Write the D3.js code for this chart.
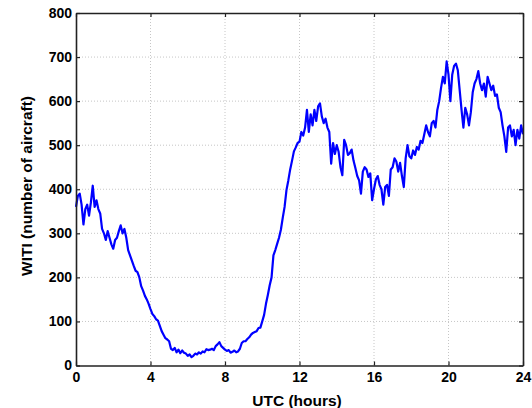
<!DOCTYPE html>
<html lang="en">
  <head>
    <meta charset="UTF-8" />
    <title>WITI</title>
    <script src="https://cdn.jsdelivr.net/npm/d3@7"></script>
    <style>
      body { margin: 0; background: #fff; }
      text { font-family: "Liberation Sans", Arial, Helvetica, sans-serif; font-weight: bold; fill: #000; }
    </style>
  </head>
  <body>
    <svg id="svg" width="532" height="408"></svg>
    <script>
      // WITI every 0.1 h (0.0 .. 24.0)
      const witi = [
        360, 385, 390, 365, 320, 355, 365, 340, 370, 408,
        360, 375, 355, 345, 310, 300, 285, 305, 290, 275,
        265, 285, 290, 305, 318, 300, 310, 290, 262, 250,
        238, 226, 215, 212, 200, 180, 170, 158, 150, 140,
        128, 117, 112, 105, 102, 90, 78, 70, 62, 59,
        55, 38, 35, 40, 30, 36, 28, 34, 29, 27,
        22, 25, 19, 22, 27, 25, 30, 27, 32, 30,
        37, 35, 36, 38, 35, 44, 48, 53, 44, 40,
        36, 33, 35, 29, 31, 34, 30, 32, 38, 51,
        55, 55, 60, 64, 70, 74, 76, 78, 85, 86,
        100, 115, 140, 160, 182, 200, 250, 262, 276, 290,
        308, 335, 360, 398, 420, 445, 465, 486, 495, 505,
        508, 530, 522, 540, 580, 530, 570, 545, 580, 555,
        588, 595, 565, 550, 560, 540, 530, 458, 505, 480,
        500, 485, 450, 432, 512, 500, 478, 482, 490, 465,
        448, 430, 420, 390, 440, 450, 445, 428, 436, 375,
        400, 422, 430, 410, 400, 365, 405, 410, 385, 445,
        450, 470, 463, 440, 460, 430, 405, 470, 500, 475,
        470, 488, 478, 496, 490, 510, 505, 525, 545, 530,
        520, 550, 555, 540, 580, 600, 630, 655, 640, 690,
        660, 600, 660, 680, 685, 670, 625, 580, 540, 585,
        570, 545, 575, 620, 640, 650, 668, 640, 625, 640,
        610, 655, 640, 625, 635, 612, 615, 585, 575, 545,
        520, 485, 540, 545, 520, 535, 500, 535, 515, 545,
        525
      ];
      const hours = witi.map((d, i) => i / 10);
      const xTicks = [0, 4, 8, 12, 16, 20, 24];
      const yTicks = [0, 100, 200, 300, 400, 500, 600, 700, 800];

      const margin = { top: 13, right: 9, bottom: 42.5, left: 76 };
      const width = 532 - margin.left - margin.right;
      const height = 408 - margin.top - margin.bottom;

      const x = d3.scaleLinear().domain([0, 24]).range([0, width]);
      const y = d3.scaleLinear().domain([0, 800]).range([height, 0]);

      const svg = d3.select("#svg");
      const g = svg
        .append("g")
        .attr("transform", `translate(${margin.left},${margin.top})`);

      // dotted grid
      const grid = g.append("g").attr("stroke", "#b8b8b8").attr("stroke-width", 0.8).attr("stroke-dasharray", "1,2");
      grid.selectAll("line.v")
        .data(xTicks.slice(1, -1))
        .enter()
        .append("line")
        .attr("x1", d => x(d))
        .attr("x2", d => x(d))
        .attr("y1", 0)
        .attr("y2", height);
      grid.selectAll("line.h")
        .data(yTicks.slice(1, -1))
        .enter()
        .append("line")
        .attr("x1", 0)
        .attr("x2", width)
        .attr("y1", d => y(d))
        .attr("y2", d => y(d));

      // data line
      g.append("path")
        .datum(witi)
        .attr("fill", "none")
        .attr("stroke", "#0000ff")
        .attr("stroke-width", 2.2)
        .attr("stroke-linejoin", "round")
        .attr("d", d3.line().x((d, i) => x(hours[i])).y(d => y(d)));

      // axes, ticks inside, box all round
      g.append("g")
        .attr("transform", `translate(0,${height})`)
        .call(d3.axisBottom(x).tickValues(xTicks).tickSize(-4).tickSizeOuter(0).tickPadding(7));
      g.append("g")
        .call(d3.axisLeft(y).tickValues(yTicks).tickSize(-4).tickSizeOuter(0).tickPadding(4));
      g.append("g")
        .call(d3.axisTop(x).tickValues(xTicks).tickSize(-4).tickSizeOuter(0).tickFormat(""));
      g.append("g")
        .attr("transform", `translate(${width},0)`)
        .call(d3.axisRight(y).tickValues(yTicks).tickSize(-4).tickSizeOuter(0).tickFormat(""));

      g.selectAll(".domain").attr("stroke", "#222").attr("stroke-width", 1.6);
      g.selectAll(".tick line").attr("stroke", "#222").attr("stroke-width", 1.2);
      g.selectAll(".tick text").attr("font-size", 14).attr("font-family", null).attr("fill", "#000");

      // axis titles
      svg.append("text")
        .attr("x", 297)
        .attr("y", 406)
        .attr("text-anchor", "middle")
        .attr("font-size", 15.5)
        .text("UTC (hours)");
      svg.append("text")
        .attr("transform", "translate(32,186) rotate(-90)")
        .attr("text-anchor", "middle")
        .attr("font-size", 15.5)
        .text("WITI (number of aircraft)");
    </script>
  </body>
</html>
